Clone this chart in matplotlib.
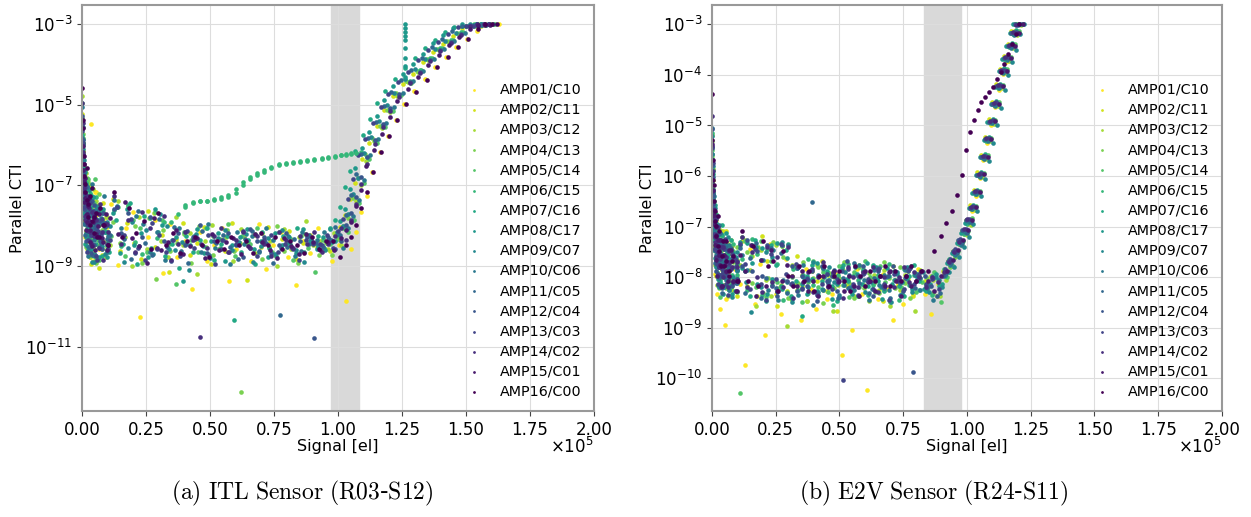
import numpy as np
import matplotlib
matplotlib.use("Agg")
import matplotlib.pyplot as plt
from matplotlib.ticker import NullLocator

amp_names = ["AMP01/C10", "AMP02/C11", "AMP03/C12", "AMP04/C13", "AMP05/C14", "AMP06/C15",
             "AMP07/C16", "AMP08/C17", "AMP09/C07", "AMP10/C06", "AMP11/C05", "AMP12/C04",
             "AMP13/C03", "AMP14/C02", "AMP15/C01", "AMP16/C00"]

# ---------------- ITL sensor (R03-S12) ----------------
# two flat-pair signal ladders [el]: set A (odd amps), set B (even amps)
itl_signal_a = ([100, 300, 500, 800, 1100, 1500, 2000, 2600, 3300, 4100, 5000, 6200, 7600, 9200]
                + [11000, 13800, 16600, 19400, 22200, 25000, 27800, 30600, 33400, 36200,
                   39000, 41800, 44600, 47400, 50200, 53000, 55800, 58600, 61400, 64200,
                   67000, 69800, 72600, 75400, 78200, 81000, 83800, 86600, 89400, 92200]
                + [95000, 97500, 100000, 102000, 104000, 106000, 108000, 110000, 113000, 116000,
                   119000, 122000, 126000, 130000, 134000, 138000, 142000, 146000, 150000, 153000,
                   156000, 158000])
itl_signal_b = ([200, 400, 650, 950, 1300, 1750, 2300, 2950, 3700, 4550, 5600, 6900, 8400, 10100]
                + [12400, 15200, 18000, 20800, 23600, 26400, 29200, 32000, 34800, 37600,
                   40400, 43200, 46000, 48800, 51600, 54400, 57200, 60000, 62800, 65600,
                   68400, 71200, 74000, 76800, 79600, 82400, 85200, 88000, 90800, 93600]
                + [96200, 98700, 101000, 103000, 105000, 107000, 109000, 111500, 114500, 117500,
                   120500, 124000, 128000, 132000, 136000, 140000, 144000, 148000, 151500, 154500,
                   157000, 159000])
itl_gain = [1.03, 0.98, 1.01, 0.99, 1.02, 1.0, 0.97, 0.98, 1.0, 1.01, 0.99, 1.0, 0.98, 1.0, 1.01, 1.02]
itl_level = [0.03, -0.04, 0.01, -0.02, 0.05, 0.0, -0.05, 0.02, -0.01, 0.04, -0.03, 0.015, -0.045, 0.035, -0.015, 0.025]
# log10(parallel CTI), one row per amplifier
itl_logcti = [
    [-5.6, -6.6, -7.4, -6.8, -8.3, -7.1, -8.6, -7.5, -5.5, -8.9, -7.2, -8.5, -7.9, -8.8,
     -7.5, -9.0, -8.1, -7.7, -10.3, -8.3, -7.9, -9.2, -8.0, -8.8, -8.4, -9.6, -8.2, -8.9, -8.5, -8.1, -9.4, -8.6, -8.3, -8.9, -8.0, -9.1, -8.5, -8.2, -8.8, -9.5, -8.4, -8.7, -8.1, -8.6,
     -8.9, -8.5, -9.9, -8.6, -8.2, -7.7, -7.3, -6.7, -6.2, -5.8, -5.4, -5.0, -4.7, -4.4, -4.1, -3.85, -3.6, -3.4, -3.2, -3.05, -3.0, -3.0],
    [-5.2, -6.1, -6.9, -7.6, -6.6, -8.1, -7.3, -8.7, -7.0, -8.2, -7.7, -9.0, -7.4, -8.4,
     -7.3, -8.6, -7.9, -8.4, -8.8, -7.6, -8.5, -8.2, -9.1, -8.3, -7.9, -8.7, -8.4, -8.0, -8.9, -8.3, -8.6, -7.9, -8.4, -9.3, -8.2, -8.5, -8.0, -8.7, -8.3, -8.1, -8.8, -8.4, -8.2, -8.5,
     -8.3, -8.6, -8.2, -8.0, -7.7, -7.3, -6.9, -6.3, -5.9, -5.5, -5.1, -4.75, -4.45, -4.2, -3.9, -3.65, -3.45, -3.25, -3.05, -3.0, -3.0, -3.0],
    [-4.8, -6.4, -6.8, -7.9, -7.2, -6.7, -8.4, -7.6, -8.8, -7.1, -8.2, -7.5, -8.6, -7.8,
     -8.5, -7.4, -8.3, -9.0, -7.8, -8.6, -7.7, -8.4, -8.8, -7.8, -8.5, -8.2, -9.2, -8.4, -8.0, -8.6, -8.3, -8.9, -8.1, -8.5, -8.7, -8.2, -8.4, -9.0, -8.1, -8.6, -8.3, -7.9, -8.5, -8.4,
     -8.6, -8.2, -8.5, -8.1, -7.9, -7.4, -7.0, -6.4, -5.9, -5.6, -5.2, -4.8, -4.45, -4.2, -3.9, -3.65, -3.45, -3.25, -3.05, -3.0, -3.0, -3.0],
    [-5.3, -5.8, -7.2, -6.5, -7.8, -8.5, -6.9, -7.7, -8.3, -7.4, -8.9, -7.2, -8.1, -8.5,
     -7.9, -8.4, -7.5, -8.0, -8.9, -7.8, -9.3, -8.1, -8.6, -8.4, -8.2, -8.9, -8.0, -8.5, -8.7, -8.3, -8.1, -8.6, -12.1, -8.4, -8.2, -8.8, -8.5, -8.0, -8.6, -8.3, -8.9, -8.2, -8.4, -8.7,
     -8.4, -8.7, -8.3, -8.0, -7.8, -7.3, -6.8, -6.2, -5.8, -5.5, -5.1, -4.7, -4.4, -4.15, -3.85, -3.6, -3.4, -3.2, -3.03, -3.0, -3.0, -3.0],
    [-5.0, -6.0, -6.6, -7.4, -8.0, -7.0, -7.6, -8.6, -7.3, -8.0, -6.9, -8.4, -7.7, -8.2,
     -8.3, -7.6, -8.8, -7.9, -8.1, -8.7, -7.7, -7.9, -8.5, -9.5, -8.2, -8.4, -8.7, -8.1, -8.3, -8.6, -8.0, -8.8, -8.3, -8.5, -8.1, -8.4, -8.7, -8.2, -8.5, -8.9, -8.3, -8.6, -9.2, -8.4,
     -8.5, -8.3, -8.1, -8.2, -7.9, -7.5, -7.0, -6.4, -6.0, -5.6, -5.2, -4.8, -4.5, -4.2, -3.9, -3.65, -3.45, -3.25, -3.05, -3.0, -3.0, -3.0],
    [-5.4, -6.3, -7.0, -6.7, -7.5, -8.2, -7.1, -8.0, -7.6, -8.7, -7.3, -8.3, -7.9, -8.4,
     -7.6, -8.5, -7.5, -8.4, -8.7, -7.8, -8.3, -7.9, -7.9, -7.7, -7.55, -7.45, -7.4, -7.4, -7.37, -7.33, -7.28, -7.18, -7.0, -6.85, -6.75, -6.67, -6.58, -6.5, -6.47, -6.44, -6.42, -6.39, -6.36, -6.34,
     -6.31, -6.29, -6.26, -6.24, -6.22, -6.2, -6.18, -6.3, -5.9, -5.5, -5.1, -4.75, -4.4, -4.15, -3.85, -3.6, -3.4, -3.2, -3.03, -3.0, -3.0, -3.0],
    [-5.7, -6.5, -6.2, -7.3, -8.4, -6.9, -7.8, -8.2, -7.2, -8.0, -8.7, -7.5, -8.4, -8.1,
     -8.6, -7.8, -8.4, -7.4, -8.9, -7.7, -8.5, -8.1, -8.7, -8.4, -9.0, -8.2, -8.6, -8.3, -8.0, -8.8, -8.4, -8.2, -10.3, -8.6, -8.3, -8.9, -8.1, -8.5, -8.7, -8.2, -8.4, -8.0, -8.6, -8.3,
     -8.2, -8.5, -8.0, -7.8, -7.5, -7.0, -6.6, -6.1, -5.7, -5.3, -4.9, -4.6, -4.3, -4.05, -3.8, -3.55, -3.35, -3.15, -3.02, -3.0, -3.0, -3.0],
    [-5.5, -6.8, -6.4, -7.7, -7.0, -8.3, -7.4, -7.9, -8.6, -7.3, -8.1, -8.8, -7.6, -8.5,
     -7.7, -8.7, -7.6, -8.5, -8.2, -8.8, -7.6, -8.0, -8.6, -8.3, -9.4, -8.5, -8.1, -8.7, -8.4, -8.2, -8.9, -8.5, -8.3, -8.1, -8.6, -8.4, -8.8, -8.2, -8.5, -8.3, -8.7, -8.1, -8.4, -8.6,
     -8.3, -8.1, -8.4, -7.9, -7.6, -7.1, -6.6, -6.1, -5.7, -5.3, -4.9, -4.55, -4.25, -4.0, -3.75, -3.5, -3.3, -3.12, -3.0, -3.0, -3.0, -3.0],
    [-5.6, -6.0, -7.3, -6.9, -7.8, -7.5, -8.5, -7.1, -8.0, -8.9, -7.6, -8.2, -7.8, -8.7,
     -8.0, -7.5, -8.9, -7.9, -8.5, -8.1, -8.7, -7.7, -8.0, -8.6, -8.4, -9.1, -8.2, -8.5, -8.8, -8.3, -8.1, -8.6, -8.4, -8.2, -8.9, -8.5, -8.3, -8.7, -8.1, -8.4, -8.6, -8.9, -8.3, -8.5,
     -8.6, -8.4, -8.2, -8.0, -7.7, -7.2, -6.8, -6.2, -5.8, -5.4, -5.0, -4.7, -4.35, -4.1, -3.85, -3.6, -3.4, -3.2, -3.03, -3.0, -3.0, -3.0],
    [-5.1, -6.4, -6.7, -8.0, -7.2, -7.7, -8.8, -7.4, -7.0, -8.3, -7.9, -8.6, -7.3, -8.3,
     -7.4, -8.1, -8.6, -7.8, -8.0, -8.7, -8.2, -8.9, -8.4, -8.1, -8.5, -8.3, -8.7, -8.0, -8.6, -8.4, -9.0, -8.2, -8.5, -8.3, -8.7, -8.1, -8.4, -8.6, -8.3, -8.8, -8.2, -8.5, -8.4, -8.2,
     -8.4, -8.2, -8.6, -8.1, -7.8, -7.4, -6.9, -6.3, -5.9, -5.5, -5.1, -4.75, -4.45, -4.2, -3.9, -3.65, -3.45, -3.25, -3.05, -3.0, -3.0, -3.0],
    [-5.8, -6.2, -7.1, -6.6, -8.2, -7.4, -7.0, -8.5, -7.7, -8.1, -8.7, -7.6, -8.4, -8.0,
     -8.2, -7.5, -8.3, -8.8, -7.6, -8.4, -8.7, -7.8, -8.5, -8.0, -8.6, -8.9, -8.3, -8.1, -8.7, -8.4, -8.2, -8.5, -8.8, -8.3, -8.1, -8.6, -8.4, -8.9, -10.2, -8.5, -8.3, -8.6, -8.2, -8.4,
     -8.5, -8.3, -8.0, -8.2, -7.7, -7.2, -6.7, -6.2, -5.8, -5.4, -5.0, -4.65, -4.35, -4.1, -3.8, -3.55, -3.35, -3.15, -3.02, -3.0, -3.0, -3.0],
    [-5.3, -6.7, -6.9, -7.2, -7.6, -8.4, -7.3, -7.9, -8.7, -7.5, -8.0, -8.4, -7.7, -8.6,
     -7.6, -8.2, -7.7, -8.7, -8.3, -7.8, -8.6, -8.4, -8.9, -8.2, -8.5, -8.3, -8.0, -8.7, -8.4, -8.6, -8.2, -8.5, -8.8, -8.1, -8.4, -8.3, -8.7, -8.5, -8.2, -8.6, -8.4, -8.3, -10.8, -8.5,
     -8.3, -8.6, -8.4, -8.0, -7.7, -7.3, -6.8, -6.3, -5.9, -5.5, -5.1, -4.75, -4.45, -4.2, -3.9, -3.65, -3.45, -3.25, -3.05, -3.0, -3.0, -3.0],
    [-5.6, -5.9, -6.8, -7.5, -7.0, -7.8, -8.6, -8.1, -7.4, -8.4, -7.7, -8.8, -8.2, -7.9,
     -8.3, -7.5, -8.2, -7.8, -8.5, -8.8, -7.9, -8.2, -8.6, -8.3, -8.7, -8.1, -8.5, -8.4, -8.2, -8.9, -8.3, -8.6, -8.4, -8.1, -8.5, -8.7, -8.3, -8.2, -8.6, -8.4, -8.5, -8.8, -8.3, -8.4,
     -8.4, -8.2, -8.5, -8.1, -7.8, -7.3, -6.8, -6.2, -5.8, -5.4, -5.0, -4.7, -4.4, -4.15, -3.85, -3.6, -3.4, -3.2, -3.03, -3.0, -3.0, -3.0],
    [-5.0, -6.2, -6.5, -7.1, -7.9, -7.3, -8.0, -7.6, -8.5, -7.8, -8.3, -7.5, -8.9, -8.2,
     -7.3, -8.5, -7.9, -8.7, -7.7, -8.1, -8.6, -7.8, -8.9, -8.5, -8.2, -8.4, -10.8, -8.6, -8.3, -8.1, -8.7, -8.4, -8.2, -8.6, -8.3, -8.5, -8.8, -8.2, -8.4, -8.6, -8.3, -8.5, -8.2, -8.7,
     -8.5, -8.3, -8.1, -8.4, -7.9, -7.5, -7.0, -6.5, -6.0, -5.6, -5.2, -4.85, -4.5, -4.25, -3.95, -3.7, -3.5, -3.3, -3.08, -3.0, -3.0, -3.0],
    [-5.4, -6.6, -6.9, -7.4, -6.8, -8.1, -7.7, -7.3, -8.4, -7.9, -8.6, -8.0, -8.3, -7.7,
     -7.8, -8.2, -7.4, -8.3, -8.5, -8.9, -7.8, -8.6, -8.4, -8.1, -8.7, -8.5, -8.3, -8.8, -8.2, -8.6, -8.4, -8.3, -8.7, -8.5, -8.2, -8.4, -8.6, -8.8, -8.3, -8.5, -8.7, -8.2, -8.4, -8.6,
     -8.4, -8.6, -8.3, -8.1, -7.9, -7.5, -7.1, -6.5, -6.1, -5.7, -5.3, -4.9, -4.6, -4.3, -4.0, -3.75, -3.5, -3.3, -3.1, -3.0, -3.0, -3.0],
    [-4.6, -5.6, -6.3, -6.8, -7.2, -6.6, -7.5, -8.0, -7.1, -7.8, -8.3, -7.6, -8.0, -8.5,
     -7.2, -8.3, -7.6, -8.2, -7.9, -8.6, -7.7, -8.5, -8.2, -8.7, -8.4, -8.3, -8.5, -8.8, -8.4, -8.6, -8.3, -8.5, -8.4, -8.7, -8.2, -8.5, -8.3, -8.6, -8.4, -8.5, -8.7, -8.3, -8.6, -8.4,
     -8.4, -8.8, -8.5, -8.3, -8.0, -7.6, -7.2, -6.7, -6.2, -5.8, -5.4, -5.0, -4.7, -4.4, -4.1, -3.85, -3.6, -3.4, -3.15, -3.02, -3.0, -3.0],
]
# extra low-signal pairs
itl_low_signal = [250, 700, 1200, 1800, 2400, 3000, 3800, 4600, 5500, 6600, 8000, 9800]
itl_low_logcti = [
    [-6.2, -7.5, -6.9, -8.4, -7.3, -8.8, -7.6, -8.1, -7.2, -8.6, -7.9, -8.3],
    [-5.9, -6.8, -7.8, -7.1, -8.5, -7.4, -8.9, -7.7, -8.2, -7.5, -8.7, -8.0],
    [-6.5, -7.2, -6.6, -7.9, -8.3, -7.0, -7.7, -8.6, -7.4, -8.0, -8.4, -7.8],
    [-5.7, -7.0, -7.6, -6.8, -7.9, -8.6, -7.3, -8.2, -8.8, -7.6, -8.1, -8.5],
    [-6.0, -6.6, -7.3, -8.1, -6.9, -7.8, -8.4, -7.5, -8.0, -8.9, -7.7, -8.2],
    [-6.3, -7.4, -7.0, -7.6, -8.2, -7.2, -8.0, -8.7, -7.6, -8.3, -7.9, -8.6],
    [-5.8, -6.9, -7.7, -7.2, -8.0, -8.5, -7.5, -7.9, -8.4, -7.8, -8.7, -8.1],
    [-6.4, -7.1, -6.7, -8.2, -7.5, -8.0, -8.6, -7.3, -8.3, -8.0, -7.7, -8.8],
    [-6.1, -6.7, -7.5, -7.0, -8.6, -7.7, -8.1, -8.9, -7.5, -8.2, -8.5, -7.9],
    [-5.6, -7.3, -7.1, -7.8, -7.4, -8.3, -7.8, -8.4, -8.0, -7.6, -8.2, -8.7],
    [-6.6, -7.0, -7.9, -7.4, -8.1, -7.6, -8.7, -8.0, -7.8, -8.5, -7.9, -8.3],
    [-5.9, -7.6, -7.2, -8.0, -7.7, -8.4, -7.4, -8.5, -8.1, -7.9, -8.6, -8.0],
    [-6.2, -6.8, -7.4, -7.7, -8.3, -7.9, -8.2, -7.6, -8.7, -8.1, -7.8, -8.4],
    [-5.5, -7.2, -7.8, -7.3, -7.9, -8.2, -7.7, -8.3, -7.9, -8.6, -8.2, -8.0],
    [-6.0, -6.9, -7.3, -7.9, -7.5, -8.1, -8.5, -7.8, -8.2, -7.7, -8.4, -8.6],
    [-5.4, -6.5, -7.0, -7.4, -7.8, -7.3, -7.9, -8.2, -7.7, -8.3, -8.0, -8.5],
]
# extra AMP06 samples along its plateau, and AMP08 column near 1.26e5
itl_amp06_signal = [40400, 43200, 46000, 48800, 51600, 54400, 57200, 60000, 62800, 65600, 68400, 71200, 74000,
                    76800, 79600, 82400, 85200, 88000, 90800, 93600, 96200, 98800, 101000, 103000, 105000, 107000]
itl_amp06_logcti = [-7.5, -7.42, -7.4, -7.38, -7.35, -7.3, -7.23, -7.1, -6.92, -6.8, -6.7, -6.62, -6.54,
                    -6.48, -6.45, -6.43, -6.4, -6.37, -6.35, -6.32, -6.3, -6.27, -6.25, -6.23, -6.21, -6.19]
itl_amp08_col_signal = [126000] * 9
itl_amp08_col_logcti = [-4.3, -4.05, -3.85, -3.6, -3.4, -3.3, -3.2, -3.1, -3.0]
itl_band = (97300, 108300)
itl_yticks = [1e-3, 1e-5, 1e-7, 1e-9, 1e-11]

# ---------------- E2V sensor (R24-S11) ----------------
e2v_signal_a = ([100, 300, 500, 800, 1100, 1500, 2000, 2600, 3300, 4100, 5000, 6200, 7600, 9200]
                + [11000, 13000, 15000, 17000, 19000, 21000, 23000, 25000, 27000, 29000,
                   31000, 33000, 35000, 37000, 39000, 41000, 43000, 45000, 47000, 49000,
                   51000, 53000, 55000, 57000, 59000, 61000, 63000, 65000, 67000, 69000,
                   71000, 73000, 75000, 77000, 79000, 81000]
                + [83500, 86000, 88500, 91000, 93000, 95000, 97000, 99000, 100500, 102000,
                   103500, 105000, 106500, 108000, 109500, 111000, 112500, 114000, 115500, 117000,
                   118500, 120000])
e2v_signal_b = ([200, 400, 650, 950, 1300, 1750, 2300, 2950, 3700, 4550, 5600, 6900, 8400, 10100]
                + [12000, 14000, 16000, 18000, 20000, 22000, 24000, 26000, 28000, 30000,
                   32000, 34000, 36000, 38000, 40000, 42000, 44000, 46000, 48000, 50000,
                   52000, 54000, 56000, 58000, 60000, 62000, 64000, 66000, 68000, 70000,
                   72000, 74000, 76000, 78000, 80000, 82000]
                + [84700, 87200, 89700, 92000, 94000, 96000, 98000, 99700, 101200, 102700,
                   104200, 105700, 107200, 108700, 110200, 111700, 113200, 114700, 116200, 117700,
                   119200, 120500])
e2v_gain = [1.0, 0.985, 1.01, 0.995, 1.015, 0.99, 1.005, 0.98, 1.02, 0.995, 1.01, 0.985, 1.005, 0.99, 1.015, 1.0]
e2v_level = [0.16, 0.22, 0.135, 0.19, 0.21, 0.15, 0.23, 0.17, 0.2, 0.14, 0.18, 0.225, 0.155, 0.195, 0.13, 0.215]
e2v_logcti = [
    [-5.9, -6.7, -7.4, -6.9, -8.1, -7.6, -8.5, -7.2, -8.8, -7.9, -9.1, -7.5, -8.3, -8.0,
     -8.3, -9.9, -7.6, -8.7, -7.9, -9.3, -7.5, -8.5, -8.9, -7.8, -8.6, -8.3, -9.0, -8.0, -8.4, -8.8, -8.2, -8.6, -8.5, -8.1, -9.7, -8.3, -9.2, -8.0, -8.5, -10.4, -8.2, -8.6, -8.1, -8.4, -9.0, -8.3, -8.7, -8.2, -8.5, -8.0,
     -8.5, -8.9, -8.3, -8.1, -7.9, -7.7, -7.5, -7.3, -7.1, -6.85, -6.55, -6.2, -5.85, -5.5, -5.15, -4.8, -4.45, -4.15, -3.9, -3.6, -3.3, -3.1],
    [-5.4, -6.3, -6.8, -7.6, -7.1, -8.2, -7.4, -8.0, -7.7, -8.4, -7.3, -8.1, -7.8, -8.6,
     -7.5, -8.4, -7.8, -8.6, -7.4, -7.9, -8.3, -8.8, -7.6, -8.5, -8.2, -7.8, -8.4, -8.7, -8.1, -8.3, -7.9, -8.5, -8.2, -8.9, -8.0, -8.4, -8.2, -8.6, -8.1, -8.3, -8.0, -8.5, -8.7, -8.2, -8.0, -8.4, -8.3, -8.1, -8.6, -8.2,
     -8.3, -8.2, -8.6, -8.1, -7.9, -7.7, -7.5, -7.3, -7.1, -6.8, -6.5, -6.15, -5.8, -5.45, -5.1, -4.75, -4.4, -4.1, -3.85, -3.6, -3.35, -3.2],
    [-6.1, -6.0, -7.2, -6.7, -7.9, -7.3, -8.3, -7.6, -7.2, -8.0, -7.7, -8.5, -7.4, -8.2,
     -7.9, -7.4, -8.0, -8.7, -7.6, -8.2, -8.5, -7.5, -8.3, -9.1, -7.9, -8.4, -8.1, -8.6, -8.2, -7.9, -8.4, -8.1, -8.8, -8.3, -8.0, -8.2, -8.5, -7.9, -8.3, -8.6, -8.1, -8.4, -8.0, -8.7, -8.2, -8.4, -8.1, -8.3, -8.8, -8.0,
     -8.4, -8.2, -8.5, -8.2, -7.9, -7.7, -7.5, -7.3, -7.1, -6.8, -6.5, -6.15, -5.8, -5.45, -5.1, -4.75, -4.4, -4.1, -3.85, -3.6, -3.35, -3.15],
    [-5.5, -6.5, -6.6, -7.4, -7.0, -7.8, -7.3, -8.4, -7.6, -8.1, -7.5, -8.3, -7.9, -7.6,
     -7.4, -7.7, -8.3, -7.6, -8.5, -8.2, -7.5, -8.4, -7.8, -8.6, -8.0, -8.3, -7.9, -8.5, -8.2, -8.0, -8.7, -8.1, -8.4, -8.2, -7.9, -8.3, -8.6, -8.0, -8.4, -8.1, -8.3, -8.5, -7.9, -8.2, -8.4, -8.0, -8.3, -8.6, -8.1, -8.2,
     -8.2, -8.5, -8.3, -8.1, -8.0, -7.8, -7.5, -7.3, -7.1, -6.8, -6.5, -6.15, -5.8, -5.45, -5.1, -4.75, -4.4, -4.1, -3.85, -3.6, -3.35, -3.15],
    [-5.7, -6.1, -7.0, -6.8, -7.7, -7.2, -8.1, -7.5, -8.6, -7.4, -8.0, -7.6, -8.4, -7.9,
     -10.5, -7.5, -7.8, -8.4, -7.5, -8.6, -7.9, -8.3, -7.6, -8.5, -8.2, -8.0, -8.7, -8.3, -7.9, -8.4, -8.1, -8.5, -8.2, -8.0, -8.3, -8.6, -8.1, -8.4, -7.9, -8.2, -8.5, -8.0, -8.3, -8.7, -8.1, -8.4, -8.2, -8.0, -8.5, -8.3,
     -8.4, -8.1, -8.7, -8.2, -8.0, -7.7, -7.5, -7.3, -7.05, -6.8, -6.5, -6.15, -5.8, -5.45, -5.1, -4.75, -4.4, -4.1, -3.85, -3.6, -3.35, -3.2],
    [-5.3, -6.4, -6.6, -7.3, -7.5, -6.9, -7.8, -8.2, -7.3, -8.0, -7.7, -8.4, -7.5, -8.1,
     -7.8, -8.4, -7.4, -7.7, -8.5, -7.6, -8.3, -7.9, -8.6, -7.5, -8.0, -8.4, -8.1, -7.8, -8.3, -8.5, -8.0, -8.2, -8.7, -8.1, -8.3, -7.9, -8.4, -8.2, -8.0, -8.5, -8.3, -8.1, -8.4, -7.9, -8.2, -8.6, -8.0, -8.3, -8.1, -8.4,
     -8.3, -8.5, -8.2, -8.0, -7.8, -7.7, -7.5, -7.3, -7.1, -6.8, -6.5, -6.15, -5.8, -5.45, -5.1, -4.75, -4.4, -4.1, -3.85, -3.6, -3.35, -3.15],
    [-5.8, -6.2, -6.9, -7.5, -6.8, -8.0, -7.4, -7.9, -8.3, -7.2, -8.1, -7.8, -7.5, -8.5,
     -7.6, -8.1, -8.6, -7.5, -7.9, -8.7, -7.6, -8.0, -8.4, -7.7, -8.6, -8.3, -9.0, -8.2, -8.0, -8.5, -8.3, -8.1, -8.4, -8.7, -8.0, -8.3, -8.2, -8.6, -8.1, -8.4, -8.0, -8.3, -8.5, -8.2, -8.1, -8.4, -8.6, -8.2, -8.0, -8.3,
     -8.5, -8.2, -8.4, -8.2, -7.9, -7.7, -7.5, -7.3, -7.1, -6.8, -6.5, -6.15, -5.8, -5.45, -5.1, -4.75, -4.4, -4.1, -3.85, -3.6, -3.35, -3.2],
    [-5.6, -6.7, -6.5, -7.2, -7.8, -7.1, -8.2, -7.5, -7.9, -8.5, -7.3, -8.0, -7.7, -8.2,
     -8.0, -7.5, -7.9, -8.3, -7.6, -8.5, -8.2, -7.5, -8.4, -7.8, -8.6, -8.0, -8.3, -8.5, -8.2, -7.9, -8.4, -8.1, -8.6, -8.3, -8.0, -8.2, -8.5, -8.1, -8.3, -7.9, -8.4, -8.2, -8.6, -8.0, -8.3, -8.1, -8.5, -8.2, -8.4, -8.1,
     -8.4, -8.3, -8.1, -8.3, -7.9, -7.7, -7.5, -7.3, -7.1, -6.8, -6.5, -6.15, -5.8, -5.45, -5.1, -4.75, -4.4, -4.1, -3.85, -3.6, -3.35, -3.15],
    [-5.4, -6.0, -7.1, -6.8, -7.3, -8.0, -7.2, -8.4, -7.6, -7.9, -8.2, -7.4, -8.6, -7.8,
     -7.5, -8.3, -8.9, -7.6, -8.4, -7.7, -7.8, -8.5, -7.5, -8.3, -8.7, -8.0, -8.2, -8.4, -7.9, -8.5, -8.2, -8.0, -8.3, -8.6, -8.1, -8.4, -8.0, -8.2, -8.5, -8.3, -8.0, -8.4, -8.2, -8.7, -8.1, -8.3, -8.0, -8.5, -8.2, -8.1,
     -8.5, -8.2, -8.4, -8.1, -8.0, -7.8, -7.6, -7.4, -7.15, -6.9, -6.6, -6.25, -5.9, -5.55, -5.2, -4.85, -4.5, -4.2, -3.95, -3.7, -3.4, -3.2],
    [-5.2, -6.5, -6.8, -7.6, -7.0, -7.7, -8.3, -7.1, -7.8, -8.1, -7.5, -8.4, -7.7, -8.0,
     -7.7, -8.0, -7.5, -8.3, -7.8, -8.4, -7.6, -8.6, -8.2, -7.5, -8.3, -8.5, -7.9, -8.2, -8.7, -8.1, -8.4, -8.2, -8.0, -8.5, -8.3, -8.1, -8.4, -7.9, -8.2, -8.6, -8.0, -8.3, -8.1, -8.4, -8.2, -8.5, -8.0, -8.3, -8.1, -8.4,
     -8.3, -8.6, -8.2, -8.1, -7.9, -7.7, -7.5, -7.25, -7.05, -6.8, -6.5, -6.15, -5.8, -5.45, -5.1, -4.75, -4.4, -4.1, -3.85, -3.6, -3.35, -3.15],
    [-5.9, -6.2, -6.6, -7.0, -7.9, -7.4, -7.6, -8.2, -7.3, -8.5, -7.8, -8.0, -7.6, -8.3,
     -7.6, -8.5, -7.8, -7.5, -8.6, -8.2, -7.6, -8.4, -7.7, -8.5, -8.3, -8.0, -8.4, -8.2, -6.7, -8.5, -8.0, -8.3, -8.1, -8.6, -8.2, -8.4, -7.9, -8.3, -8.1, -8.5, -8.2, -8.0, -8.4, -8.6, -8.1, -8.3, -8.2, -8.0, -8.4, -8.2,
     -8.4, -8.2, -8.5, -8.1, -7.9, -7.7, -7.5, -7.3, -7.1, -6.8, -6.5, -6.15, -5.8, -5.45, -5.1, -4.75, -4.4, -4.1, -3.85, -3.6, -3.35, -3.15],
    [-5.3, -6.6, -7.0, -6.9, -7.4, -8.1, -7.5, -7.8, -8.4, -7.6, -8.2, -7.7, -8.3, -7.9,
     -8.0, -7.5, -8.1, -7.7, -8.2, -7.6, -8.4, -8.6, -7.6, -8.3, -8.0, -8.5, -8.2, -8.4, -8.1, -8.7, -8.0, -8.3, -8.2, -8.5, -8.1, -7.9, -8.4, -8.2, -8.0, -8.3, -8.6, -8.1, -8.4, -8.2, -8.0, -8.3, -8.5, -8.1, -10.1, -8.2,
     -8.2, -8.4, -8.6, -8.2, -7.9, -7.7, -7.5, -7.3, -7.1, -6.85, -6.55, -6.2, -5.85, -5.5, -5.15, -4.8, -4.45, -4.15, -3.9, -3.65, -3.4, -3.2],
    [-5.6, -5.9, -6.7, -7.3, -7.6, -7.0, -7.9, -8.3, -7.7, -8.1, -7.4, -8.5, -8.0, -7.8,
     -7.5, -7.9, -8.4, -7.6, -8.3, -8.6, -7.7, -8.2, -7.5, -8.1, -8.3, -7.9, -8.4, -8.2, -8.0, -8.5, -8.3, -8.1, -8.4, -8.2, -10.2, -8.0, -8.3, -8.5, -8.1, -8.2, -8.4, -8.0, -8.3, -8.6, -8.1, -8.2, -8.4, -8.0, -8.3, -8.1,
     -8.3, -8.2, -8.4, -8.0, -7.8, -7.6, -7.4, -7.2, -7.0, -6.75, -6.45, -6.1, -5.75, -5.4, -5.05, -4.7, -4.35, -4.05, -3.8, -3.55, -3.3, -3.15],
    [-5.0, -6.1, -6.5, -7.1, -7.4, -7.8, -7.2, -8.0, -8.4, -7.6, -8.1, -7.9, -8.3, -8.0,
     -7.4, -8.4, -7.7, -8.2, -8.5, -7.6, -8.3, -7.8, -8.4, -7.6, -8.6, -8.0, -8.3, -8.1, -8.5, -8.2, -7.9, -8.4, -8.1, -8.3, -8.6, -8.0, -8.2, -8.4, -8.1, -8.3, -8.0, -8.5, -8.2, -8.1, -8.4, -8.2, -8.0, -8.3, -8.1, -8.2,
     -8.4, -8.2, -8.3, -8.1, -7.9, -7.7, -7.5, -7.25, -7.05, -6.8, -6.5, -6.15, -5.8, -5.45, -5.1, -4.75, -4.4, -4.1, -3.85, -3.6, -3.35, -3.2],
    [-5.5, -6.4, -6.9, -6.8, -7.5, -7.3, -8.1, -7.7, -7.4, -8.3, -7.9, -8.2, -7.6, -8.4,
     -7.7, -8.0, -7.5, -8.5, -7.8, -8.3, -7.6, -8.4, -8.2, -7.9, -8.1, -8.3, -8.0, -8.4, -8.2, -8.5, -8.1, -8.3, -8.0, -8.2, -8.4, -8.1, -8.3, -8.5, -8.0, -8.2, -8.4, -8.1, -8.3, -8.0, -8.2, -8.5, -8.1, -8.3, -8.2, -8.0,
     -8.2, -8.4, -8.1, -8.0, -7.8, -7.6, -7.4, -7.2, -7.0, -6.75, -6.45, -6.1, -5.75, -5.4, -5.05, -4.7, -4.35, -4.05, -3.8, -3.55, -3.3, -3.1],
    [-4.6, -5.9, -6.3, -6.7, -7.1, -7.4, -7.0, -7.7, -8.0, -7.5, -7.9, -8.2, -7.8, -8.3,
     -7.3, -8.3, -7.6, -8.4, -7.5, -8.0, -7.9, -8.5, -7.7, -8.2, -8.4, -8.0, -8.3, -8.1, -8.5, -8.2, -8.0, -8.4, -8.2, -8.1, -8.3, -8.5, -8.0, -8.2, -8.4, -8.1, -8.3, -8.2, -8.0, -8.4, -8.1, -8.3, -8.2, -8.0, -8.3, -8.1,
     -8.1, -7.7, -7.4, -7.15, -6.9, -6.6, -6.2, -5.7, -5.35, -5.1, -4.9, -4.75, -4.65, -4.55, -4.45, -4.3, -4.15, -4.0, -3.8, -3.6, -3.4, -3.2],
]
e2v_low_signal = [250, 700, 1200, 1800, 2400, 3000, 3800, 4600, 5500, 6600, 8000, 9800]
e2v_low_logcti = [
    [-6.3, -7.2, -6.9, -7.8, -7.4, -8.3, -7.6, -8.0, -8.6, -7.7, -8.2, -7.9],
    [-6.0, -6.8, -7.5, -7.1, -8.0, -7.6, -8.4, -7.3, -7.9, -8.1, -7.6, -8.3],
    [-6.5, -7.0, -7.3, -7.9, -7.2, -8.1, -7.7, -8.3, -7.5, -8.0, -8.4, -7.8],
    [-5.8, -7.1, -7.6, -7.3, -7.9, -7.5, -8.2, -7.8, -8.4, -7.6, -8.0, -8.2],
    [-6.2, -6.7, -7.4, -7.7, -7.3, -8.0, -7.5, -8.2, -7.9, -8.3, -7.7, -8.5],
    [-6.4, -7.3, -7.0, -7.6, -8.1, -7.4, -7.9, -7.6, -8.3, -7.8, -8.1, -7.9],
    [-5.9, -6.9, -7.7, -7.2, -7.8, -8.2, -7.4, -8.0, -7.7, -8.4, -7.9, -8.1],
    [-6.3, -7.1, -6.8, -7.9, -7.5, -7.7, -8.3, -7.5, -8.1, -7.8, -8.5, -8.0],
    [-6.1, -6.6, -7.4, -7.0, -8.0, -7.7, -7.6, -8.4, -7.8, -8.0, -8.2, -7.7],
    [-5.7, -7.2, -7.1, -7.8, -7.3, -8.1, -7.8, -7.7, -8.2, -7.5, -8.3, -8.0],
    [-6.6, -7.0, -7.6, -7.4, -7.9, -7.5, -8.4, -7.9, -7.6, -8.2, -7.8, -8.3],
    [-6.0, -7.4, -7.2, -7.7, -7.6, -8.2, -7.5, -8.1, -7.9, -7.7, -8.4, -8.0],
    [-6.2, -6.8, -7.3, -7.5, -8.1, -7.8, -8.0, -7.6, -8.3, -7.9, -7.7, -8.2],
    [-5.6, -7.0, -7.5, -7.2, -7.7, -8.0, -7.6, -8.2, -7.8, -8.4, -8.0, -7.9],
    [-6.1, -6.9, -7.1, -7.8, -7.4, -7.9, -8.3, -7.7, -8.0, -7.6, -8.2, -8.4],
    [-5.5, -6.4, -6.9, -7.2, -7.6, -7.3, -7.8, -8.0, -7.5, -8.1, -7.9, -8.3],
]
e2v_band = (83000, 97500)
e2v_yticks = [1e-3, 1e-4, 1e-5, 1e-6, 1e-7, 1e-8, 1e-9, 1e-10]

colors = plt.cm.viridis(np.linspace(1, 0, len(amp_names)))


def draw_panel(ax, signal_a, signal_b, low_signal, low_logcti, gain, level, logcti,
               band, yticks, ylim, extras):
    ax.axvspan(band[0], band[1], color="#d9d9d9", zorder=0)
    for i, name in enumerate(amp_names):
        sig = signal_a if i % 2 == 0 else signal_b
        x = np.concatenate([np.array(sig), np.array(low_signal)]) * gain[i]
        lc = np.concatenate([np.array(logcti[i]), np.array(low_logcti[i])]) + level[i]
        # CTI saturates at 1e-3 in the fit
        y = 10.0 ** np.minimum(lc, -3.0)
        ax.scatter(x, y, s=11, color=colors[i], linewidths=0, label=name, zorder=2)
    for i, xs, ys in extras:
        ax.scatter(xs, 10.0 ** np.array(ys), s=11, color=colors[i], linewidths=0, zorder=2)
    ax.set_yscale("log")
    ax.set_xlim(0, 200000)
    ax.set_ylim(*ylim)
    ax.set_yticks(yticks)
    ax.yaxis.set_minor_locator(NullLocator())
    ticks = np.arange(0, 200001, 25000)
    ax.set_xticks(ticks)
    ax.set_xticklabels([f"{v / 1e5:.2f}" for v in ticks])
    ax.text(1.0, -0.064, r"$\times10^{5}$", transform=ax.transAxes, ha="right", va="top", fontsize=12)
    ax.grid(True, color="#dddddd", linewidth=0.8, zorder=1)
    ax.set_axisbelow(True)
    for sp in ax.spines.values():
        sp.set_color("#999999")
        sp.set_linewidth(1.5)
    ax.tick_params(labelsize=12, color="#444444")
    ax.set_xlabel("Signal [el]", fontsize=11.5, labelpad=0.5)
    ax.set_ylabel("Parallel CTI", fontsize=11.5, labelpad=0)
    ax.legend(loc="lower right", frameon=False, fontsize=10.3, markerscale=0.6,
              labelspacing=0.43, handletextpad=0.8, borderaxespad=0.45, scatterpoints=1)


fig = plt.figure(figsize=(12.51, 5.17), dpi=100)
ax1 = fig.add_axes([0.0655, 0.205, 0.4093, 0.785])
ax2 = fig.add_axes([0.569, 0.205, 0.4078, 0.785])

draw_panel(ax1, itl_signal_a, itl_signal_b, itl_low_signal, itl_low_logcti, itl_gain, itl_level,
           itl_logcti, itl_band, itl_yticks, (10 ** -12.6, 10 ** -2.53),
           [(5, itl_amp06_signal, itl_amp06_logcti), (7, itl_amp08_col_signal, itl_amp08_col_logcti)])
draw_panel(ax2, e2v_signal_a, e2v_signal_b, e2v_low_signal, e2v_low_logcti, e2v_gain, e2v_level,
           e2v_logcti, e2v_band, e2v_yticks, (10 ** -10.65, 10 ** -2.62), [])

fig.text(0.2415, 0.045, r"$\mathrm{(a)\ ITL\ Sensor\ (R03}$-$\mathrm{S12)}$", ha="center", va="center",
         fontsize=17, math_fontfamily="cm")
fig.text(0.7465, 0.045, r"$\mathrm{(b)\ E2V\ Sensor\ (R24}$-$\mathrm{S11)}$", ha="center", va="center",
         fontsize=17, math_fontfamily="cm")

fig.savefig("out.png", dpi=100)
